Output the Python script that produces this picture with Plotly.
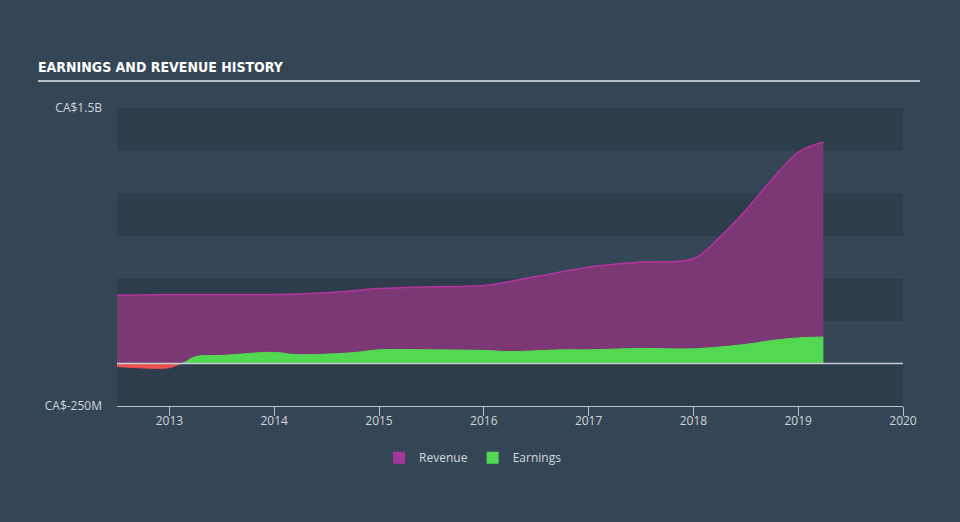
import numpy as np
import plotly.graph_objects as go

# ---- data (values in CA$ millions) ----
rev_x = [2012.5, 2013.0, 2013.5, 2014.0, 2014.5, 2015.0, 2015.5, 2016.0, 2016.5, 2017.0,
         2017.5, 2018.0, 2018.25, 2018.5, 2018.75, 2019.0, 2019.24]
rev_y = [400, 405, 405, 405, 415, 440, 450, 458, 510, 565,
         595, 615, 740, 900, 1080, 1240, 1300]

earn_x = [2012.5, 2012.7, 2013.0, 2013.12, 2013.25, 2013.5, 2014.0, 2014.2, 2014.75, 2015.0,
          2015.5, 2016.0, 2016.25, 2016.75, 2017.0, 2017.5, 2018.0, 2018.5, 2018.75, 2019.0, 2019.24]
earn_y = [-18, -25, -25, 0, 40, 47, 65, 52, 63, 80,
          80, 76, 70, 80, 80, 88, 86, 112, 135, 150, 155]

x_ticks = [2013, 2014, 2015, 2016, 2017, 2018, 2019, 2020]
y_ticks = [-250, 1500]
y_ticktext = ["CA$-250M", "CA$1.5B"]
band_step = 250

earn_arr = np.array(earn_y, dtype=float)
earn_pos = np.clip(earn_arr, 0, None)
earn_neg = np.clip(earn_arr, None, 0)

fig = go.Figure()
fig.add_trace(go.Scatter(
    x=rev_x, y=rev_y, name="Revenue", mode="lines", line_shape="spline",
    line=dict(color="#b5339f", width=1.5), fill="tozeroy", fillcolor="#7b3874", showlegend=False,
))
fig.add_trace(go.Scatter(
    x=earn_x, y=earn_neg, name="Earnings (loss)", mode="lines", line_shape="spline",
    line=dict(color="#ec5150", width=1), fill="tozeroy", fillcolor="#ec5150", showlegend=False,
))
fig.add_trace(go.Scatter(
    x=earn_x, y=earn_pos, name="Earnings", mode="lines", line_shape="spline",
    line=dict(color="#52d851", width=1), fill="tozeroy", fillcolor="#52d851", showlegend=False,
))
# legend-only entries
fig.add_trace(go.Bar(x=[None], y=[None], name="Revenue", marker=dict(color="#a3359b", line_width=0)))
fig.add_trace(go.Bar(x=[None], y=[None], name="Earnings", marker=dict(color="#52d851", line_width=0)))

# horizontal bands
shapes = []
lo, hi = y_ticks[0], y_ticks[-1]
k = 0
v = lo
while v < hi:
    dark = (k % 2 == 0)
    shapes.append(dict(type="rect", xref="paper", yref="y", x0=0, x1=1, y0=v, y1=v + band_step,
                       fillcolor="#2e3d4c" if dark else "#354657", line_width=0, layer="below"))
    v += band_step
    k += 1
# zero line
shapes.append(dict(type="line", xref="paper", yref="y", x0=0, x1=1, y0=0, y1=0,
                   line=dict(color="#c8ccd0", width=1.5), layer="above"))
# title underline
shapes.append(dict(type="line", xref="paper", yref="paper", x0=-0.1005, x1=1.0216, y0=1.0906, y1=1.0906,
                   line=dict(color="#b8bec4", width=2)))

fig.update_layout(
    width=960, height=522,
    paper_bgcolor="#344555", plot_bgcolor="#344555",
    margin=dict(l=117, r=57, t=108, b=116),
    shapes=shapes,
    showlegend=True,
    legend=dict(orientation="h", x=0.453, xanchor="center", y=-0.125, yanchor="top",
                font=dict(color="#d6dadf", size=12, family="Open Sans"), bgcolor="rgba(0,0,0,0)",
                itemwidth=30),
    font=dict(family="Open Sans", color="#d0d5da", size=12),
    annotations=[dict(text="<b>EARNINGS AND REVENUE HISTORY</b>", xref="paper", yref="paper",
                      x=-0.1005, y=1.103, xanchor="left", yanchor="bottom", showarrow=False,
                      xshift=-2,
                      font=dict(family="DejaVu Sans Condensed", size=14, color="#ffffff"))],
)
fig.update_xaxes(range=[2012.5, 2020.0], tickvals=x_ticks, ticktext=[str(t) for t in x_ticks],
                 showgrid=False, zeroline=False, showline=True, linecolor="#b8c0c8", linewidth=1,
                 ticks="outside", ticklen=9, tickcolor="#b8c0c8", ticklabelstandoff=-5,
                 tickfont=dict(color="#d0d5da", size=12))
fig.update_yaxes(range=[-250, 1500], tickvals=y_ticks, ticktext=y_ticktext,
                 showgrid=False, zeroline=False, showline=False, ticks="",
                 ticklabelstandoff=14, tickfont=dict(color="#d0d5da", size=12))

fig.write_html("out.html", config={"displayModeBar": False},
               post_script="document.body.style.margin='0';")
